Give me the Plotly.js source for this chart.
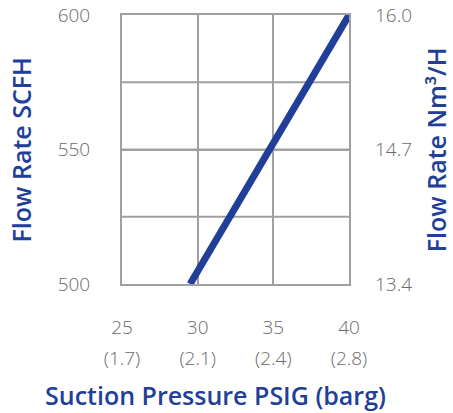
<!DOCTYPE html>
<html><head><meta charset="utf-8">
<script src="https://cdn.plot.ly/plotly-3.0.1.min.js"></script>
<style>body{margin:0;background:#fff}#c{width:453px;height:413px}</style>
</head><body><div id="c"></div>
<script>
const psig = [29.5, 40];
const scfh = [500, 600];
const xTickVals = [25, 30, 35, 40];
const xTickPsig = ["25", "30", "35", "40"];
const xTickBarg = ["(1.7)", "(2.1)", "(2.4)", "(2.8)"];
const yTickVals = [500, 550, 600];
const y2TickVals = [13.4, 14.7, 16.0];
const y2TickText = ["13.4", "14.7", "16.0"];

const blue = "#213f99";
const grid = "#a0a0a0";
const tickFont = {family: "Open Sans", size: 19, color: "#6a6a6a", weight: 300};
const titleFont = {family: "Open Sans", size: 25, color: blue, weight: 600};

const traces = [
  {x: psig, y: scfh, type: "scatter", mode: "lines", line: {color: blue, width: 7}, hoverinfo: "skip"},
  {x: xTickVals, y: [null, null, null, null], xaxis: "x2", yaxis: "y2", type: "scatter", mode: "lines", showlegend: false, hoverinfo: "skip"}
];

const layout = {
  width: 453, height: 413,
  margin: {l: 122, r: 104, t: 15, b: 129},
  paper_bgcolor: "#fff", plot_bgcolor: "#fff",
  showlegend: false,
  xaxis: {range: [25, 40], tickvals: xTickVals, ticktext: xTickPsig, ticks: "", ticklabelstandoff: 25,
    showgrid: true, gridcolor: grid, gridwidth: 2, showline: true, linecolor: grid, linewidth: 2, mirror: true,
    zeroline: false, tickfont: tickFont, fixedrange: true},
  xaxis2: {range: [25, 40], overlaying: "x", side: "bottom", tickvals: xTickVals, ticktext: xTickBarg, ticks: "",
    ticklabelstandoff: 61, showgrid: false, showline: false, zeroline: false, tickfont: tickFont},
  yaxis: {range: [500, 600], tickvals: yTickVals, ticks: "", ticklabelstandoff: 26, dtick: 25,
    showgrid: true, gridcolor: grid, gridwidth: 2, showline: true, linecolor: grid, linewidth: 2, mirror: true,
    zeroline: false, tickfont: tickFont},
  yaxis2: {range: [13.4, 16.0], overlaying: "y", side: "right", anchor: "x", tickvals: y2TickVals, ticktext: y2TickText,
    ticks: "", ticklabelstandoff: 25, showgrid: false, showline: false, zeroline: false, tickfont: tickFont},
  shapes: [25, 50, 75].map(v => ({type: "line", xref: "paper", yref: "y", x0: 0, x1: 1, y0: 500 + v, y1: 500 + v,
    line: {color: grid, width: 2}, layer: "below"})),
  annotations: [
    {text: "Flow Rate SCFH", xref: "paper", yref: "paper", x: -0.445, y: 0.5, textangle: -90, showarrow: false, font: titleFont, xanchor: "center", yanchor: "middle"},
    {text: "Flow Rate Nm³/H", xref: "paper", yref: "paper", x: 1.382, y: 0.5, textangle: -90, showarrow: false, font: titleFont, xanchor: "center", yanchor: "middle"},
    {text: "Suction Pressure PSIG (barg)", xref: "paper", yref: "paper", x: 0.414, y: -0.412, showarrow: false, font: titleFont, xanchor: "center", yanchor: "middle"}
  ]
};
Plotly.newPlot("c", traces, layout, {staticPlot: true, displayModeBar: false});
</script></body></html>
